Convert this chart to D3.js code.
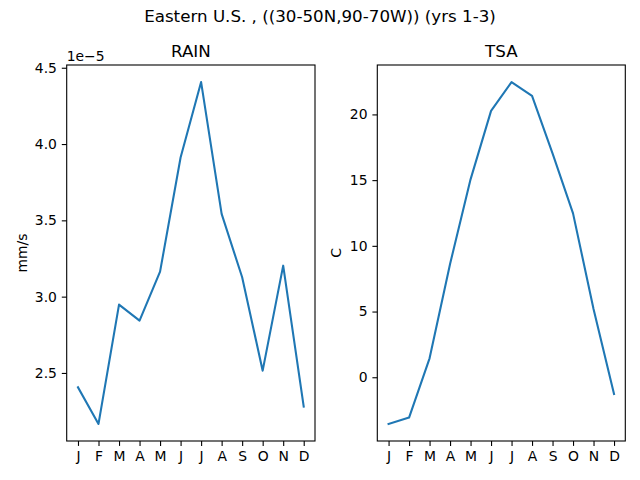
<!DOCTYPE html>
<html>
<head>
<meta charset="utf-8">
<script src="https://cdn.jsdelivr.net/npm/d3@7"></script>
<style>
  body { margin: 0; background: #fff; }
  svg text { font-family: "DejaVu Sans", sans-serif; fill: #000; }
</style>
</head>
<body>
<div id="chart"></div>
<script>
// month labels and the two monthly series
var months = ["J", "F", "M", "A", "M", "J", "J", "A", "S", "O", "N", "D"];
var rain = [2.406, 2.166, 2.948, 2.843, 3.164, 3.912, 4.406, 3.542, 3.127, 2.515, 3.203, 2.279]; // x 1e-5 mm/s
var tsa = [-3.55, -3.07, 1.44, 8.62, 15.06, 20.27, 22.46, 21.41, 17.03, 12.47, 5.2, -1.27];
var rainTicks = [2.5, 3.0, 3.5, 4.0, 4.5];
var tsaTicks = [0, 5, 10, 15, 20];

var svg = d3.select("#chart").append("svg")
    .attr("width", 640)
    .attr("height", 480);

svg.append("text")
    .attr("x", 320).attr("y", 22)
    .attr("text-anchor", "middle")
    .style("font-size", "16.7px")
    .text("Eastern U.S. , ((30-50N,90-70W)) (yrs 1-3)");

function drawPanel(opts) {
  var w = opts.right - opts.left, h = opts.bottom - opts.top;
  var g = svg.append("g").attr("transform", "translate(" + opts.left + "," + opts.top + ")");

  var x = d3.scaleLinear().domain([-0.55, 11.55]).range([0, w]);
  var ext = d3.extent(opts.data);
  var pad = (ext[1] - ext[0]) * 0.05;
  var y = d3.scaleLinear().domain([ext[0] - pad, ext[1] + pad]).range([h, 0]);

  var xAxis = d3.axisBottom(x)
      .tickValues(d3.range(12))
      .tickFormat(function(i) { return months[i]; })
      .tickSize(4.9).tickPadding(4.9);
  var yAxis = d3.axisLeft(y)
      .tickValues(opts.ticks)
      .tickFormat(opts.fmt)
      .tickSize(4.9).tickPadding(4.9);

  var gx = g.append("g").attr("transform", "translate(0," + h + ")").call(xAxis);
  var gy = g.append("g").call(yAxis);
  [gx, gy].forEach(function(a) {
    a.select(".domain").remove();
    a.selectAll("line").attr("stroke", "#000").attr("stroke-width", 1.1);
    a.selectAll("text").style("font-size", "13.9px").attr("font-family", "DejaVu Sans");
  });

  var line = d3.line()
      .x(function(d, i) { return x(i); })
      .y(function(d) { return y(d); });

  g.append("path")
      .datum(opts.data)
      .attr("fill", "none")
      .attr("stroke", "#1f77b4")
      .attr("stroke-width", 2.08)
      .attr("stroke-linejoin", "round")
      .attr("stroke-linecap", "square")
      .attr("d", line);

  g.append("rect")
      .attr("width", w).attr("height", h)
      .attr("fill", "none").attr("stroke", "#000").attr("stroke-width", 1.1);

  g.append("text")
      .attr("x", w / 2).attr("y", -8)
      .attr("text-anchor", "middle")
      .style("font-size", "16.7px")
      .text(opts.title);

  g.append("text")
      .attr("transform", "translate(" + opts.labelX + "," + (h / 2) + ") rotate(-90)")
      .attr("text-anchor", "middle")
      .style("font-size", "13.9px")
      .text(opts.label);

  if (opts.offset) {
    g.append("text")
        .attr("x", 0).attr("y", -4)
        .style("font-size", "13.9px")
        .text(opts.offset);
  }
}

drawPanel({
  left: 66.7, right: 315, top: 65, bottom: 441,
  data: rain, ticks: rainTicks, fmt: d3.format(".1f"),
  title: "RAIN", label: "mm/s", labelX: -40, offset: "1e\u22125"
});

drawPanel({
  left: 377.3, right: 625.3, top: 65, bottom: 441,
  data: tsa, ticks: tsaTicks, fmt: function(d) { return d < 0 ? "\u2212" + (-d) : d; },
  title: "TSA", label: "C", labelX: -36
});
</script>
</body>
</html>
